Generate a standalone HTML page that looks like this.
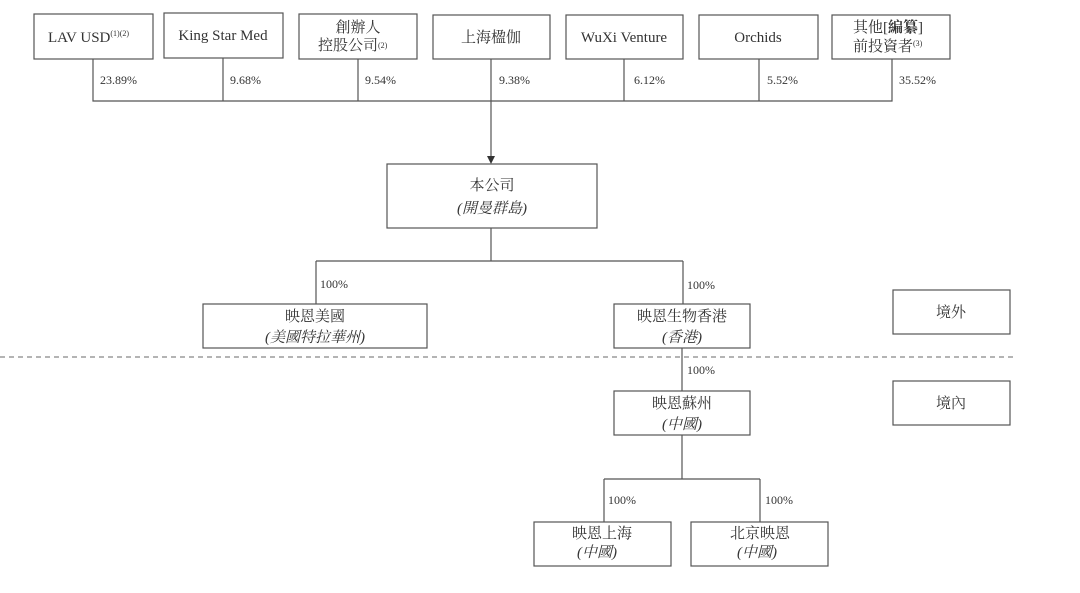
<!DOCTYPE html>
<html><head><meta charset="utf-8"><style>
html,body{margin:0;padding:0;background:#fff;}
svg{display:block}
text{font-family:"Liberation Serif","Noto Serif CJK SC","Noto Sans CJK TC",serif;fill:#333;}
.b{fill:#fff;stroke:#555;stroke-width:1.2}
.l{stroke:#555;stroke-width:1.2;fill:none}
.p{font-size:12px}
.t{font-size:15px}
.i{font-size:15px;font-style:italic}
</style></head><body>
<svg width="1080" height="593" viewBox="0 0 1080 593" xmlns="http://www.w3.org/2000/svg">
<!-- top boxes -->
<rect class="b" x="34" y="14" width="119" height="45"/>
<text class="t" x="48" y="42">LAV USD<tspan font-size="8" dy="-6">(1)(2)</tspan></text>
<rect class="b" x="164" y="13" width="119" height="45"/>
<text class="t" x="223" y="40" text-anchor="middle">King Star Med</text>
<rect class="b" x="299" y="14" width="118" height="45"/>
<text class="t" x="358" y="32" text-anchor="middle">創辦人</text>
<text class="t" x="318" y="50">控股公司<tspan font-size="8" dy="-2">(2)</tspan></text>
<rect class="b" x="433" y="15" width="117" height="44"/>
<text class="t" x="491" y="42" text-anchor="middle">上海楹伽</text>
<rect class="b" x="566" y="15" width="117" height="44"/>
<text class="t" x="624" y="42" text-anchor="middle">WuXi Venture</text>
<rect class="b" x="699" y="15" width="119" height="44"/>
<text class="t" x="758" y="42" text-anchor="middle">Orchids</text>
<rect class="b" x="832" y="15" width="118" height="44"/>
<text class="t" x="853" y="32">其他[<tspan font-weight="bold">編纂</tspan>]</text>
<text class="t" x="853" y="51">前投資者<tspan font-size="8" dy="-5">(3)</tspan></text>
<!-- connectors -->
<path class="l" d="M93 59V101H892V59M223 58V101M358 59V101M491 59V157M624 59V101M759 59V101"/>
<polygon points="487,156 495,156 491,164" fill="#333"/>
<text class="p" x="100" y="84">23.89%</text>
<text class="p" x="230" y="84">9.68%</text>
<text class="p" x="365" y="84">9.54%</text>
<text class="p" x="499" y="84">9.38%</text>
<text class="p" x="634" y="84">6.12%</text>
<text class="p" x="767" y="84">5.52%</text>
<text class="p" x="899" y="84">35.52%</text>
<!-- company -->
<rect class="b" x="387" y="164" width="210" height="64"/>
<text class="t" x="492" y="190" text-anchor="middle">本公司</text>
<text class="i" x="492" y="213" text-anchor="middle">(開曼群島)</text>
<path class="l" d="M491 228V261M316 261H683M316 261V304M683 261V304"/>
<text class="p" x="320" y="288">100%</text>
<text class="p" x="687" y="289">100%</text>
<rect class="b" x="203" y="304" width="224" height="44"/>
<text class="t" x="315" y="321" text-anchor="middle">映恩美國</text>
<text class="i" x="315" y="342" text-anchor="middle">(美國特拉華州)</text>
<rect class="b" x="614" y="304" width="136" height="44"/>
<text class="t" x="682" y="321" text-anchor="middle">映恩生物香港</text>
<text class="i" x="682" y="342" text-anchor="middle">(香港)</text>
<rect class="b" x="893" y="290" width="117" height="44"/>
<text class="t" x="951" y="317" text-anchor="middle">境外</text>
<line x1="0" y1="357" x2="1015" y2="357" stroke="#888" stroke-width="1.2" stroke-dasharray="5,4"/>
<path class="l" d="M682 348V391"/>
<text class="p" x="687" y="374">100%</text>
<rect class="b" x="614" y="391" width="136" height="44"/>
<text class="t" x="682" y="408" text-anchor="middle">映恩蘇州</text>
<text class="i" x="682" y="429" text-anchor="middle">(中國)</text>
<rect class="b" x="893" y="381" width="117" height="44"/>
<text class="t" x="951" y="408" text-anchor="middle">境內</text>
<path class="l" d="M682 435V479H760M604 479H682M604 479V522M760 479V522"/>
<text class="p" x="608" y="504">100%</text>
<text class="p" x="765" y="504">100%</text>
<rect class="b" x="534" y="522" width="137" height="44"/>
<text class="t" x="602" y="538" text-anchor="middle">映恩上海</text>
<text class="i" x="597" y="557" text-anchor="middle">(中國)</text>
<rect class="b" x="691" y="522" width="137" height="44"/>
<text class="t" x="760" y="538" text-anchor="middle">北京映恩</text>
<text class="i" x="757" y="557" text-anchor="middle">(中國)</text>
</svg>
</body></html>
